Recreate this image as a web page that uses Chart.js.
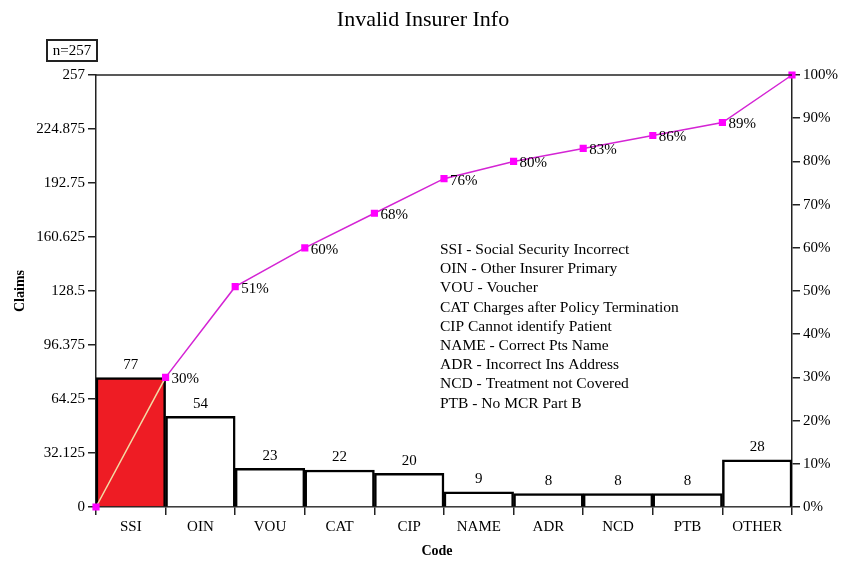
<!DOCTYPE html>
<html>
<head>
<meta charset="utf-8">
<script src="https://cdn.jsdelivr.net/npm/chart.js@4"></script>
<style>
  body { margin: 0; background: #fff; }
  #wrap { width: 844px; height: 562px; }
</style>
</head>
<body>
<div id="wrap"><canvas id="pareto" width="844" height="562"></canvas></div>
<script>
// dados
const codes = ['SSI', 'OIN', 'VOU', 'CAT', 'CIP', 'NAME', 'ADR', 'NCD', 'PTB', 'OTHER'];
const claims = [77, 54, 23, 22, 20, 9, 8, 8, 8, 28];
const cumPct = [0, 30, 51, 60, 68, 76, 80, 83, 86, 89, 100];
const cumPos = [0, 1, 2, 3, 4, 5, 6, 7, 8, 9, 10];
const claimTicks = [0, 32.125, 64.25, 96.375, 128.5, 160.625, 192.75, 224.875, 257];
const pctTicks = [0, 10, 20, 30, 40, 50, 60, 70, 80, 90, 100];
const legendLines = [
    'SSI - Social Security Incorrect',
    'OIN - Other Insurer Primary',
    'VOU - Voucher',
    'CAT Charges after Policy Termination',
    'CIP Cannot identify Patient',
    'NAME - Correct Pts Name',
    'ADR - Incorrect Ins Address',
    'NCD - Treatment not Covered',
    'PTB - No MCR Part B'
];

const serif = '"Liberation Serif", "DejaVu Serif", serif';

/* =========================
   TEXTOS EXTRAS (título, rótulos, legenda)
========================== */
const extras = {
    id: 'extras',
    afterDraw(chart) {
        const ctx = chart.ctx;
        const area = chart.chartArea;
        const x = chart.scales.x;
        const y = chart.scales.y;
        const x2 = chart.scales.x2;
        const y1 = chart.scales.y1;
        ctx.save();
        ctx.fillStyle = '#000';

        // linha superior do quadro
        ctx.strokeStyle = '#222';
        ctx.lineWidth = 1.5;
        ctx.beginPath();
        ctx.moveTo(area.left, area.top);
        ctx.lineTo(area.right, area.top);
        ctx.stroke();

        // título
        ctx.font = '22px ' + serif;
        ctx.textAlign = 'center';
        ctx.textBaseline = 'middle';
        ctx.fillText('Invalid Insurer Info', 423, 20);

        // caixa n=257
        ctx.lineWidth = 2;
        ctx.strokeRect(47, 40, 50, 21);
        ctx.font = '15px ' + serif;
        ctx.fillText('n=257', 72, 51);

        // títulos dos eixos
        ctx.font = 'bold 14px ' + serif;
        ctx.fillText('Code', 437, 551);
        ctx.save();
        ctx.translate(20, 291);
        ctx.rotate(-Math.PI / 2);
        ctx.fillText('Claims', 0, 0);
        ctx.restore();

        // valores das barras
        ctx.font = '15px ' + serif;
        ctx.textBaseline = 'bottom';
        claims.forEach((v, i) => {
            ctx.fillText(String(v), x.getPixelForValue(i), y.getPixelForValue(v) - 5);
        });

        // percentuais acumulados
        ctx.textAlign = 'left';
        ctx.textBaseline = 'middle';
        for (let i = 1; i < cumPct.length - 1; i++) {
            ctx.fillText(cumPct[i] + '%', x2.getPixelForValue(cumPos[i]) + 6, y1.getPixelForValue(cumPct[i]) + 2);
        }

        // legenda dos códigos
        ctx.font = '15.5px ' + serif;
        legendLines.forEach((t, i) => {
            ctx.fillText(t, 440, 250 + i * 19.2);
        });
        ctx.restore();
    }
};

const tickFont = { family: serif, size: 15 };

new Chart(document.getElementById('pareto'), {
    type: 'bar',
    data: {
        labels: codes,
        datasets: [{
            type: 'line',
            label: 'Cumulative',
            data: cumPos.map((p, i) => ({ x: p, y: cumPct[i] })),
            xAxisID: 'x2',
            yAxisID: 'y1',
            borderColor: '#d424d4',
            borderWidth: 1.5,
            pointStyle: 'rect',
            pointRadius: 4,
            pointBackgroundColor: '#ff00ff',
            pointBorderColor: '#ff00ff',
            tension: 0,
            clip: false,
            order: 0,
            segment: {
                borderColor: c => c.p0DataIndex === 0 ? '#f3dca6' : '#d424d4'
            }
        }, {
            label: 'Claims',
            data: claims,
            xAxisID: 'x',
            yAxisID: 'y',
            backgroundColor: claims.map((v, i) => i === 0 ? '#ee1c24' : '#ffffff'),
            borderColor: '#000',
            borderWidth: 2.5,
            grouped: false,
            barPercentage: 1,
            categoryPercentage: 1,
            order: 1
        }]
    },
    options: {
        responsive: false,
        animation: false,
        layout: { padding: { top: 75, left: 0, right: 0, bottom: 0 } },
        plugins: {
            legend: { display: false },
            title: { display: false },
            tooltip: { enabled: false }
        },
        scales: {
            x: {
                type: 'category',
                offset: true,
                afterFit: s => { s.height = 55; },
                border: { color: '#222', width: 1.5 },
                grid: { offset: true, drawOnChartArea: false, tickLength: 8, color: '#222', lineWidth: 1.5 },
                ticks: { color: '#000', font: tickFont, padding: 3, maxRotation: 0 }
            },
            x2: {
                type: 'linear',
                display: false,
                offset: false,
                min: 0,
                max: 10
            },
            y: {
                position: 'left',
                min: 0,
                max: 257,
                afterFit: s => { s.width = 96; },
                afterBuildTicks: s => { s.ticks = claimTicks.map(v => ({ value: v })); },
                border: { color: '#222', width: 1.5 },
                grid: { drawOnChartArea: false, tickLength: 8, color: '#222', lineWidth: 1.5 },
                ticks: { color: '#000', font: tickFont, padding: 3, callback: v => String(v) }
            },
            y1: {
                position: 'right',
                min: 0,
                max: 100,
                afterFit: s => { s.width = 52; },
                afterBuildTicks: s => { s.ticks = pctTicks.map(v => ({ value: v })); },
                border: { color: '#222', width: 1.5 },
                grid: { drawOnChartArea: false, tickLength: 8, color: '#222', lineWidth: 1.5 },
                ticks: { color: '#000', font: tickFont, padding: 3, callback: v => v + '%' }
            }
        }
    },
    plugins: [extras]
});
</script>
</body>
</html>
